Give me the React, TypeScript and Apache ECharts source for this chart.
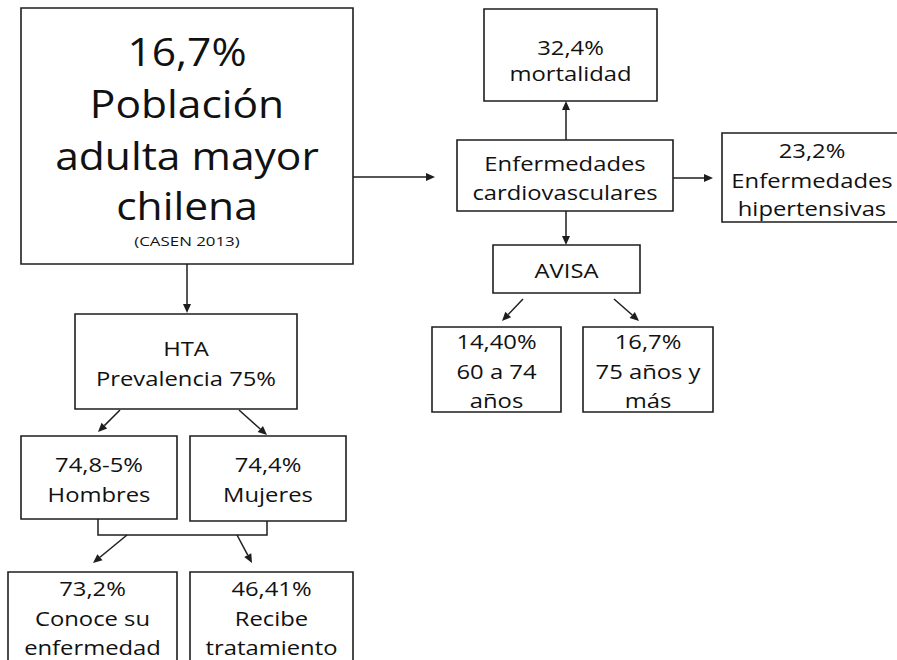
import React, { useEffect, useRef } from "react";
import * as echarts from "echarts";

// ---- Data (texts of the diagram) ----
const mainLines = ["16,7%", "Población", "adulta mayor", "chilena"];
const mainSource = "(CASEN 2013)";
const cvdLines = ["Enfermedades", "cardiovasculares"];
const mortalityLines = ["32,4%", "mortalidad"];
const hypertensiveLines = ["23,2%", "Enfermedades", "hipertensivas"];
const avisaLines = ["AVISA"];
const age60Lines = ["14,40%", "60 a 74", "años"];
const age75Lines = ["16,7%", "75 años y", "más"];
const htaLines = ["HTA", "Prevalencia 75%"];
const menLines = ["74,8-5%", "Hombres"];
const womenLines = ["74,4%", "Mujeres"];
const knowsLines = ["73,2%", "Conoce su", "enfermedad"];
const treatedLines = ["46,41%", "Recibe", "tratamiento"];

// ---- Layout (positions / sizes) ----
type Box = {
  x: number; y: number; w: number; h: number;
  lines: string[]; ys: number[]; size: number; sx: number;
};
const MED = 20;
const MSX = 1.19;
const boxes: Box[] = [
  { x: 21, y: 8, w: 332, h: 256, lines: mainLines, ys: [51, 103, 155, 205], size: 38, sx: 1.12 },
  { x: 484, y: 9, w: 173, h: 92, lines: mortalityLines, ys: [47, 73], size: MED, sx: MSX },
  { x: 457, y: 140, w: 216, h: 71, lines: cvdLines, ys: [163, 192], size: MED, sx: MSX },
  { x: 722, y: 133, w: 180, h: 89, lines: hypertensiveLines, ys: [150, 180, 208], size: MED, sx: MSX },
  { x: 493, y: 245, w: 147, h: 48, lines: avisaLines, ys: [270], size: MED, sx: MSX },
  { x: 432, y: 327, w: 129, h: 85, lines: age60Lines, ys: [341, 371, 400], size: MED, sx: MSX },
  { x: 583, y: 327, w: 130, h: 85, lines: age75Lines, ys: [341, 371, 400], size: MED, sx: MSX },
  { x: 75, y: 314, w: 222, h: 95, lines: htaLines, ys: [348, 378], size: MED, sx: MSX },
  { x: 21, y: 436, w: 156, h: 83, lines: menLines, ys: [464, 494], size: MED, sx: MSX },
  { x: 190, y: 436, w: 156, h: 85, lines: womenLines, ys: [464, 494], size: MED, sx: MSX },
  { x: 8, y: 572, w: 169, h: 110, lines: knowsLines, ys: [588, 618, 647], size: MED, sx: MSX },
  { x: 190, y: 572, w: 163, h: 110, lines: treatedLines, ys: [588, 618, 647], size: MED, sx: MSX },
];

// arrows: [x1, y1, x2, y2]
const arrows: number[][] = [
  [353, 177, 435, 177],
  [187, 264, 187, 313],
  [566, 140, 566, 101],
  [673, 178, 713, 178],
  [566, 211, 566, 245],
  [523, 299, 502, 321],
  [614, 299, 639, 321],
  [120, 410, 98, 432],
  [239, 410, 267, 435],
  [127, 535, 93, 563],
  [237, 535, 252, 563],
];
// plain connector (bracket)
const bracket: number[][] = [
  [98, 519],
  [98, 535],
  [267, 535],
  [267, 521],
];

const FONT = "'Open Sans', 'Noto Sans', sans-serif";
const INK = "#1e1e1e";

function textEl(t: string, x: number, y: number, size: number, sx: number) {
  return {
    type: "text",
    x,
    y,
    scaleX: sx,
    style: {
      text: t,
      x: 0,
      y: 0,
      textAlign: "center",
      textVerticalAlign: "middle",
      align: "center",
      verticalAlign: "middle",
      fontSize: size,
      fontFamily: FONT,
      fill: "#111111",
    },
  };
}

function buildGraphics() {
  const els: any[] = [];
  boxes.forEach((b) => {
    els.push({
      type: "rect",
      shape: { x: b.x, y: b.y, width: b.w, height: b.h },
      style: { fill: "#ffffff", stroke: INK, lineWidth: 1.6 },
    });
    b.lines.forEach((t, i) => {
      els.push(textEl(t, b.x + b.w / 2, b.ys[i], b.size, b.sx));
    });
  });
  els.push(textEl(mainSource, 187, 241, 13.5, 1.25));
  arrows.forEach(([x1, y1, x2, y2]) => {
    const dx = x2 - x1;
    const dy = y2 - y1;
    const len = Math.sqrt(dx * dx + dy * dy);
    const ux = dx / len;
    const uy = dy / len;
    const hl = 9;
    const hw = 4;
    const bx = x2 - ux * hl;
    const by = y2 - uy * hl;
    els.push({
      type: "line",
      shape: { x1, y1, x2: bx, y2: by },
      style: { stroke: INK, lineWidth: 1.5 },
    });
    els.push({
      type: "polygon",
      shape: {
        points: [
          [x2, y2],
          [bx - uy * hw, by + ux * hw],
          [bx + uy * hw, by - ux * hw],
        ],
      },
      style: { fill: INK },
    });
  });
  els.push({
    type: "polyline",
    shape: { points: bracket },
    style: { stroke: INK, lineWidth: 1.5, fill: null },
  });
  return els;
}

export default function App() {
  const ref = useRef<HTMLDivElement>(null);
  useEffect(() => {
    if (!ref.current) return;
    const chart = echarts.init(ref.current, undefined, { renderer: "svg" });
    chart.setOption({
      animation: false,
      backgroundColor: "#ffffff",
      graphic: { elements: buildGraphics() },
    });
    return () => chart.dispose();
  }, []);
  return (
    <div
      ref={ref}
      style={{ position: "absolute", left: 0, top: 0, width: 897, height: 660 }}
    />
  );
}
